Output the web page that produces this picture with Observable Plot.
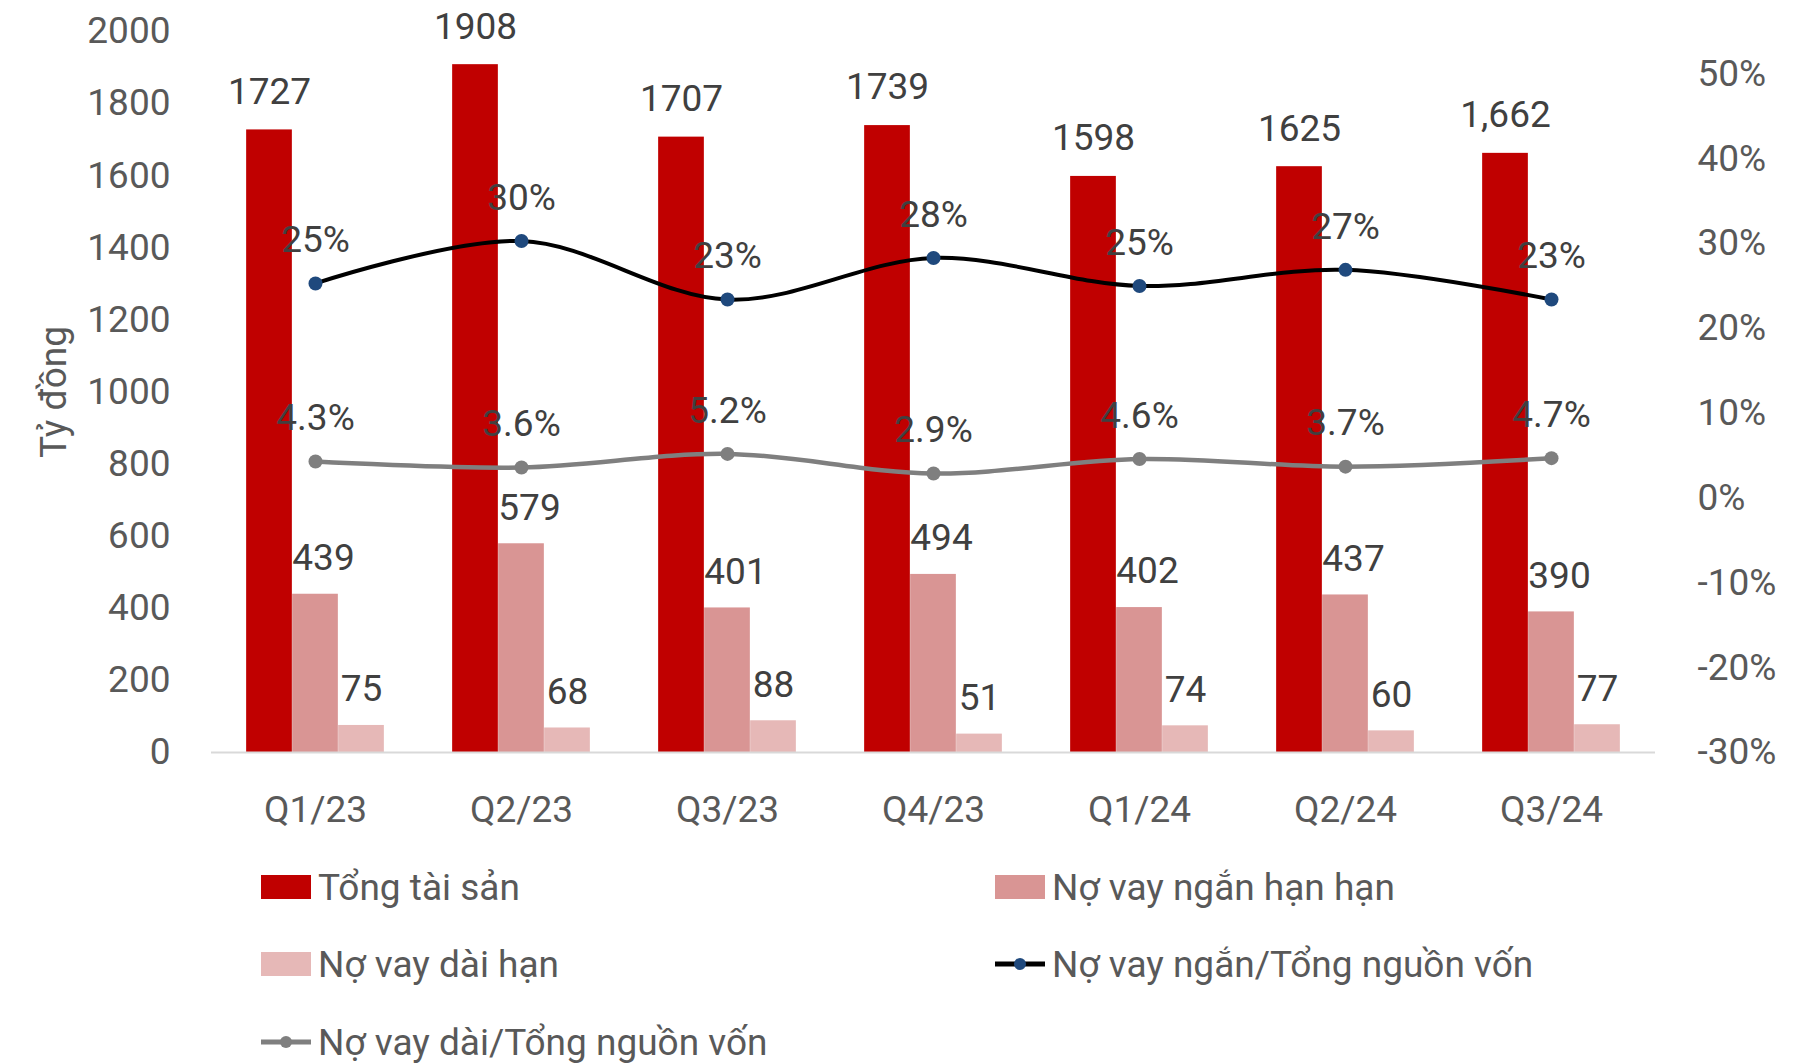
<!DOCTYPE html>
<html><head><meta charset="utf-8">
<script src="https://cdn.jsdelivr.net/npm/d3@7"></script>
<script src="https://cdn.jsdelivr.net/npm/@observablehq/plot@0.6"></script>
<style>
body{margin:0;background:#fff;font-family:Roboto,"Noto Sans",sans-serif;}
#chart{width:1802px;}
#legend{position:relative;width:1802px;height:214px;font-size:37px;color:#595959;}
.item{position:absolute;display:flex;align-items:center;height:44px;}
.item span{margin-left:7px;}
</style></head><body><div id="chart"></div>
<script>
const quarters = ["Q1/23","Q2/23","Q3/23","Q4/23","Q1/24","Q2/24","Q3/24"];
const tongTaiSan = [1727,1908,1707,1739,1598,1625,1662];
const tongTaiSanLabels = ["1727","1908","1707","1739","1598","1625","1,662"];
const noVayNgan = [439,579,401,494,402,437,390];
const noVayDai = [75,68,88,51,74,60,77];
const tyLeNgan = [0.253,0.303,0.234,0.283,0.250,0.269,0.234];
const tyLeNganLabels = ["25%","30%","23%","28%","25%","27%","23%"];
const tyLeDai = [0.043,0.036,0.052,0.029,0.046,0.037,0.047];
const tyLeDaiLabels = ["4.3%","3.6%","5.2%","2.9%","4.6%","3.7%","4.7%"];
const leftTicks = [0,200,400,600,800,1000,1200,1400,1600,1800,2000];
const rightTicks = [-0.3,-0.2,-0.1,0,0.1,0.2,0.3,0.4,0.5];
const seriesNames = ["Tổng tài sản","Nợ vay ngắn hạn hạn","Nợ vay dài hạn","Nợ vay ngắn/Tổng nguồn vốn","Nợ vay dài/Tổng nguồn vốn"];
const colors = ["#C00000","#D99594","#E6B8B7","#000000","#7F7F7F"];
const dotNgan = "#1F497D";

const rMin = -0.3, rMax = 0.55, yMax = 2000;
const toLeft = p => (p - rMin) / (rMax - rMin) * yMax;

const rows = quarters.map((q,i)=>({q, t:tongTaiSan[i], tl:tongTaiSanLabels[i], n:noVayNgan[i], d:noVayDai[i],
  rn:toLeft(tyLeNgan[i]), rnl:tyLeNganLabels[i], rd:toLeft(tyLeDai[i]), rdl:tyLeDaiLabels[i]}));

const W = 1802, bw = 46, FS = 37;
const mL = 211, mR = 147;
const band = (W - mL - mR) / quarters.length;
const ins = (band - bw) / 2;
const lab = {fill:"#404040", fontSize:FS, textAnchor:"middle", lineAnchor:"middle"};

const chart = Plot.plot({
  width: W, height: 850,
  marginLeft: mL, marginRight: mR, marginTop: 31, marginBottom: 98,
  style: {fontFamily: 'Roboto, "Noto Sans", sans-serif', background:"#fff", overflow:"visible"},
  x: {domain: quarters, padding: 0, axis: null},
  y: {domain: [0, yMax], axis: null},
  marks: [
    Plot.axisY(leftTicks, {anchor:"left", tickSize:0, tickPadding:41, fontSize:FS, fill:"#595959", label:null, tickFormat: d => String(d)}),
    Plot.axisY(rightTicks.map(toLeft), {anchor:"right", tickSize:0, tickPadding:42, fontSize:FS, fill:"#595959", label:null,
      tickFormat: d => Math.round((d / yMax * (rMax - rMin) + rMin) * 100) + "%"}),
    Plot.axisX({anchor:"bottom", tickSize:0, tickPadding:43, fontSize:FS, fill:"#595959", label:null}),
    Plot.text(["Tỷ đồng"], {frameAnchor:"left", dx:-157, rotate:-90, fontSize:FS, fill:"#595959", textAnchor:"middle"}),
    Plot.barY(rows, {x:"q", y:"t", fill:colors[0], insetLeft:ins, insetRight:ins, dx:-bw}),
    Plot.barY(rows, {x:"q", y:"n", fill:colors[1], insetLeft:ins, insetRight:ins}),
    Plot.barY(rows, {x:"q", y:"d", fill:colors[2], insetLeft:ins, insetRight:ins, dx:bw}),
    Plot.ruleY([0], {stroke:"#D9D9D9", strokeWidth:2}),
    Plot.text(rows, {x:"q", y:"t", text:"tl", dx:-bw, dy:-38, ...lab}),
    Plot.text(rows, {x:"q", y:"n", text:d=>String(d.n), dx:8, dy:-36, ...lab}),
    Plot.text(rows, {x:"q", y:"d", text:d=>String(d.d), dx:bw, dy:-36, ...lab}),
    Plot.lineY(rows, {x:"q", y:"rd", stroke:colors[4], strokeWidth:4.5, curve:"catmull-rom"}),
    Plot.dot(rows, {x:"q", y:"rd", fill:colors[4], r:7}),
    Plot.lineY(rows, {x:"q", y:"rn", stroke:colors[3], strokeWidth:4, curve:"catmull-rom"}),
    Plot.dot(rows, {x:"q", y:"rn", fill:dotNgan, r:7}),
    Plot.text(rows, {x:"q", y:"rn", text:"rnl", dy:-43, ...lab}),
    Plot.text(rows, {x:"q", y:"rd", text:"rdl", dy:-43, ...lab})
  ]
});
document.getElementById("chart").appendChild(chart);

// Legend
const legend = document.createElement("div");
legend.id = "legend";
const pos = [[261,15],[995,15],[261,92],[995,92],[261,170]];
seriesNames.forEach((name,i)=>{
  const it = document.createElement("div");
  it.className = "item";
  it.style.left = pos[i][0] + "px";
  it.style.top = pos[i][1] + "px";
  let sw;
  if (i < 3) {
    sw = `<svg width="50" height="24"><rect x="0" y="0" width="50" height="24" fill="${colors[i]}"/></svg>`;
  } else {
    const dc = i === 3 ? dotNgan : colors[4];
    sw = `<svg width="50" height="24"><line x1="0" x2="50" y1="12" y2="12" stroke="${colors[i]}" stroke-width="5"/><circle cx="25" cy="12" r="6" fill="${dc}"/></svg>`;
  }
  it.innerHTML = sw + `<span>${name}</span>`;
  legend.appendChild(it);
});
document.getElementById("chart").appendChild(legend);
</script></body></html>
